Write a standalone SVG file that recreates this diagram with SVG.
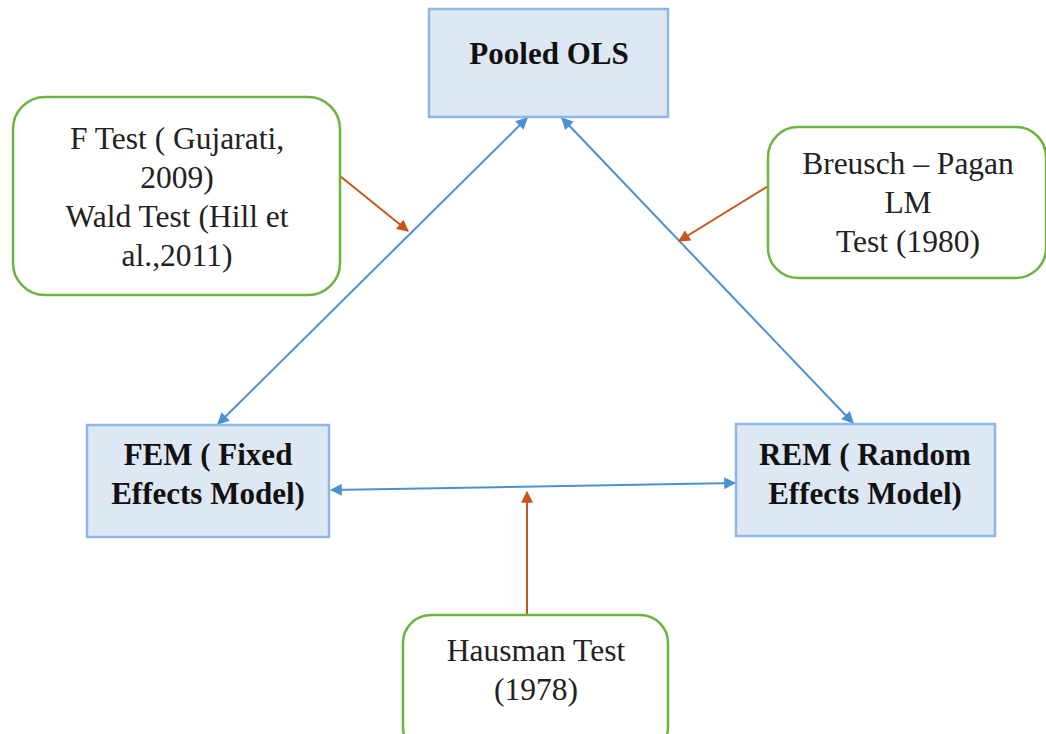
<svg xmlns="http://www.w3.org/2000/svg" width="1046" height="734" viewBox="0 0 1046 734">
<style>
.bx{fill:#dee8f4;stroke:#8db8e4;stroke-width:2.5}
.gb{fill:#fff;stroke:#6db33f;stroke-width:2.5}
.t{font-family:"Liberation Serif","Times New Roman",Times,"DejaVu Serif",serif;font-size:31.5px;fill:#222;text-anchor:middle}
.b{font-weight:bold;font-size:31px;fill:#111}
.bl{stroke:#4a90d4;stroke-width:2;fill:none}
.or{stroke:#c8561a;stroke-width:2;fill:none}
</style>
<defs>
<marker id="ab" viewBox="0 0 10 10" refX="9" refY="5" markerWidth="12" markerHeight="12" orient="auto-start-reverse" markerUnits="userSpaceOnUse"><path d="M0,0L10,5L0,10z" fill="#4a90d4"/></marker>
<marker id="ao" viewBox="0 0 10 10" refX="9" refY="5" markerWidth="12" markerHeight="12" orient="auto" markerUnits="userSpaceOnUse"><path d="M0,0L10,5L0,10z" fill="#c8561a"/></marker>
</defs>
<g id="connectors">
<line class="bl" x1="527" y1="118" x2="218" y2="424" marker-start="url(#ab)" marker-end="url(#ab)"/>
<line class="bl" x1="562" y1="118" x2="853" y2="423" marker-start="url(#ab)" marker-end="url(#ab)"/>
<line class="bl" x1="331" y1="490" x2="735" y2="483" marker-start="url(#ab)" marker-end="url(#ab)"/>
<line class="or" x1="340" y1="176" x2="408" y2="231" marker-end="url(#ao)"/>
<line class="or" x1="770" y1="185" x2="679" y2="241" marker-end="url(#ao)"/>
<line class="or" x1="527" y1="615" x2="527" y2="492" marker-end="url(#ao)"/>
</g>
<g id="pooled">
<rect class="bx" x="429" y="9" width="239" height="108"/>
<text class="t b" x="549" y="64">Pooled OLS</text>
</g>
<g id="ftest">
<rect class="gb" x="13" y="97" width="327" height="198" rx="32"/>
<text class="t" x="177" y="149">F Test ( Gujarati,</text>
<text class="t" x="177" y="188">2009)</text>
<text class="t" x="177" y="227">Wald Test (Hill et</text>
<text class="t" x="177" y="266">al.,2011)</text>
</g>
<g id="bplm">
<rect class="gb" x="768" y="127" width="278" height="151" rx="30"/>
<text class="t" x="908" y="174">Breusch – Pagan</text>
<text class="t" x="908" y="213">LM</text>
<text class="t" x="908" y="252">Test (1980)</text>
</g>
<g id="fem">
<rect class="bx" x="87" y="425" width="242" height="112"/>
<text class="t b" x="208" y="465">FEM ( Fixed</text>
<text class="t b" x="208" y="504">Effects Model)</text>
</g>
<g id="rem">
<rect class="bx" x="736" y="424" width="259" height="112"/>
<text class="t b" x="865" y="465">REM ( Random</text>
<text class="t b" x="865" y="504">Effects Model)</text>
</g>
<g id="hausman">
<rect class="gb" x="403" y="615" width="265" height="140" rx="28"/>
<text class="t" x="536" y="661">Hausman Test</text>
<text class="t" x="536" y="700">(1978)</text>
</g>
</svg>
